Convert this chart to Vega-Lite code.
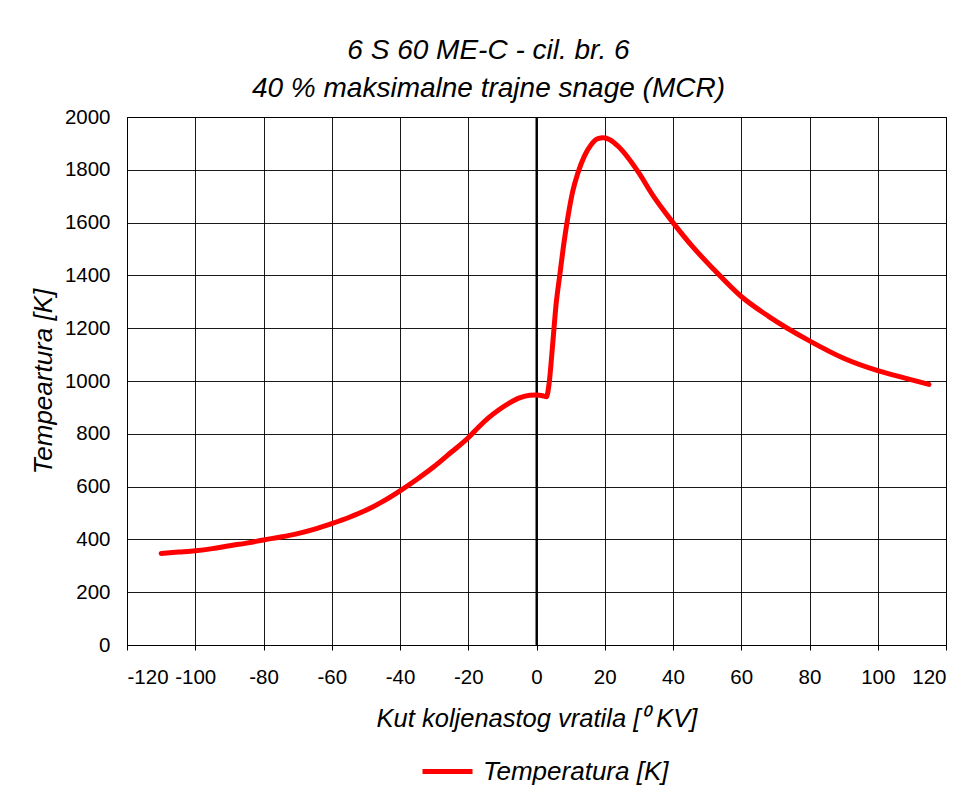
{
  "$schema": "https://vega.github.io/schema/vega-lite/v6.json",
  "width": 819,
  "height": 528,
  "autosize": {"type": "none"},
  "padding": {"left": 127, "top": 117, "right": 34, "bottom": 144},
  "background": "white",
  "title": {
    "text": ["6 S 60 ME-C - cil. br. 6", "40 % maksimalne trajne snage (MCR)"],
    "font": "Liberation Sans",
    "fontSize": 28,
    "fontStyle": "italic",
    "fontWeight": "normal",
    "color": "#000000",
    "lineHeight": 38,
    "anchor": "middle",
    "frame": "bounds",
    "offset": 4
  },
  "config": {
    "font": "Liberation Sans",
    "view": {"stroke": "#000000", "strokeWidth": 1},
    "axis": {
      "labelFont": "Liberation Sans",
      "labelFontSize": 20.5,
      "labelColor": "#000000",
      "labelExpr": "'' + datum.value",
      "titleFont": "Liberation Sans",
      "titleFontStyle": "italic",
      "titleFontWeight": "normal",
      "titleColor": "#000000",
      "gridColor": "#000000",
      "gridOpacity": 0.9,
      "gridWidth": 1,
      "domain": false
    }
  },
  "datasets": {
    "temp": [
      {"kut": -110, "T": 347},
      {"kut": -105, "T": 352},
      {"kut": -100, "T": 357},
      {"kut": -95, "T": 365},
      {"kut": -90, "T": 376},
      {"kut": -85, "T": 386},
      {"kut": -80, "T": 398},
      {"kut": -75, "T": 409},
      {"kut": -70, "T": 422},
      {"kut": -65, "T": 439},
      {"kut": -60, "T": 460},
      {"kut": -55, "T": 483},
      {"kut": -50, "T": 510},
      {"kut": -45, "T": 544},
      {"kut": -40, "T": 584},
      {"kut": -35, "T": 628},
      {"kut": -30, "T": 676},
      {"kut": -25, "T": 730},
      {"kut": -20, "T": 785},
      {"kut": -17, "T": 825},
      {"kut": -14, "T": 861},
      {"kut": -11, "T": 891},
      {"kut": -8, "T": 916},
      {"kut": -5, "T": 936},
      {"kut": -2, "T": 946},
      {"kut": 0, "T": 947},
      {"kut": 1.8, "T": 944},
      {"kut": 2.9, "T": 940},
      {"kut": 3.7, "T": 991},
      {"kut": 4.7, "T": 1133},
      {"kut": 5.7, "T": 1285},
      {"kut": 6.9, "T": 1409},
      {"kut": 7.9, "T": 1510},
      {"kut": 9.1, "T": 1613},
      {"kut": 10.6, "T": 1718},
      {"kut": 12.1, "T": 1787},
      {"kut": 14, "T": 1851},
      {"kut": 16, "T": 1895},
      {"kut": 18, "T": 1918},
      {"kut": 19.5, "T": 1921},
      {"kut": 21.5, "T": 1914},
      {"kut": 24, "T": 1888},
      {"kut": 27, "T": 1843},
      {"kut": 30, "T": 1788},
      {"kut": 34, "T": 1705},
      {"kut": 40, "T": 1600},
      {"kut": 46, "T": 1505},
      {"kut": 52, "T": 1422},
      {"kut": 60, "T": 1320},
      {"kut": 68, "T": 1245},
      {"kut": 80, "T": 1152},
      {"kut": 90, "T": 1086},
      {"kut": 100, "T": 1039},
      {"kut": 108, "T": 1011},
      {"kut": 115, "T": 987}
    ],
    "axisline": [{"kut": 0}]
  },
  "layer": [
    {
      "data": {"name": "axisline"},
      "mark": {"type": "rule", "color": "#000000", "strokeWidth": 2},
      "encoding": {
        "x": {"field": "kut", "type": "quantitative", "scale": {"domain": [-120, 120], "nice": false}}
      }
    },
    {
      "data": {"name": "temp"},
      "mark": {"type": "line", "strokeWidth": 5, "interpolate": "monotone", "strokeCap": "round", "strokeJoin": "round"},
      "encoding": {
        "x": {
          "field": "kut",
          "type": "quantitative",
          "scale": {"domain": [-120, 120], "nice": false},
          "axis": {
            "values": [-120, -100, -80, -60, -40, -20, 0, 20, 40, 60, 80, 100, 120],
            "title": "Kut koljenastog vratila [⁰ KV]",
            "titleFontSize": 25.5,
            "titlePadding": 19,
            "ticks": true,
            "tickSize": 5,
            "tickColor": "#000000",
            "labelPadding": 17,
            "grid": true
          }
        },
        "y": {
          "field": "T",
          "type": "quantitative",
          "scale": {"domain": [0, 2000], "nice": false},
          "axis": {
            "values": [0, 200, 400, 600, 800, 1000, 1200, 1400, 1600, 1800, 2000],
            "title": "Tempeartura [K]",
            "titleFontSize": 26,
            "titlePadding": 8,
            "ticks": false,
            "tickSize": 0,
            "labelPadding": 17,
            "grid": true
          }
        },
        "color": {
          "datum": "Temperatura [K]",
          "type": "nominal",
          "scale": {"range": ["#ff0000"]},
          "legend": {
            "title": null,
            "orient": "none",
            "legendX": 293,
            "legendY": 627,
            "symbolType": "stroke",
            "symbolSize": 2500,
            "symbolStrokeWidth": 5,
            "labelFont": "Liberation Sans",
            "labelFontSize": 26,
            "labelFontStyle": "italic",
            "labelColor": "#000000",
            "labelOffset": 8,
            "labelLimit": 400
          }
        }
      }
    }
  ]
}
